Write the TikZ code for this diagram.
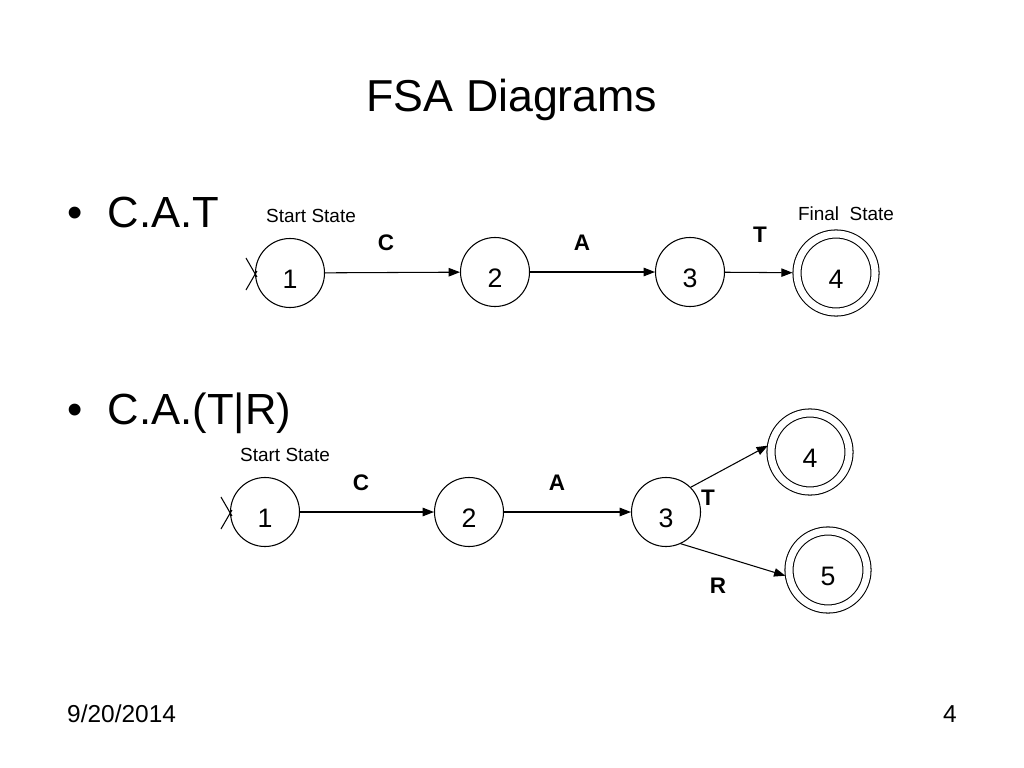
\documentclass[tikz,border=0pt]{standalone}
\usepackage{fontspec}
\setmainfont{Liberation Sans}
\usepackage{tikz}
\usetikzlibrary{arrows.meta}

\newcommand{\fs}[1]{\fontsize{#1}{1.2\dimexpr#1\relax}\selectfont}

\begin{document}
\begin{tikzpicture}[x=0.025cm, y=-0.025cm, line width=0.75pt,
    >={Triangle[length=8pt, width=6pt]},
    state/.style={circle, draw, minimum size=1.725cm, inner sep=0pt,
      text height=22pt, text depth=0pt, font=\fs{19pt}},
    accept/.style={circle, draw, double, double distance=5pt, minimum size=1.95cm,
      inner sep=0pt, text height=22pt, text depth=0pt, font=\fs{19pt}},
    sym/.style={font=\fs{16pt}\bfseries},
    tag/.style={font=\fs{13.5pt}}]
  \useasboundingbox (0,0) rectangle (1024,768);

  % Title and bullets
  \node[anchor=base, font=\fs{31.8pt}] (title) at (512,112) {FSA Diagrams};
  \node[anchor=base west, font=\fs{31pt}] (cat) at (62,227) {\textbullet\hspace{18pt}C.A.T};
  \node[anchor=base west, font=\fs{31pt}] (catr) at (62,424) {\textbullet\hspace{18pt}C.A.(T|R)};

  % First machine
  \node[state] (a1) at (290,273) {1};
  \node[state] (a2) at (495,272) {2};
  \node[state] (a3) at (690,272) {3};
  \node[accept] (a4) at (836,273) {4};

  \draw (a1.west) ++(-9,-15) -- ++(11,19);
  \draw (a1.west) ++(-9,17) -- ++(11,-19);

  \draw[->] (a1) -- (a2);
  \draw[->] (a2) -- (a3);
  \draw[->, shorten >=2.8pt] (a3) -- (a4);

  \node[tag] (astart) at (311,216) {Start State};
  \node[tag] (afinal) at (846,214) {Final\ \ State};
  \node[sym] (ac) at (386,243) {C};
  \node[sym] (aa) at (582,243) {A};
  \node[sym] (at) at (760,235) {T};

  % Second machine
  \node[state] (b1) at (265,512) {1};
  \node[state] (b2) at (469,512) {2};
  \node[state] (b3) at (666,512) {3};
  \node[accept] (b4) at (810,452) {4};
  \node[accept] (b5) at (828,570) {5};

  \draw (b1.west) ++(-9,-15) -- ++(11,19);
  \draw (b1.west) ++(-9,17) -- ++(11,-19);

  \draw[->] (b1) -- (b2);
  \draw[->] (b2) -- (b3);
  \draw[->, shorten >=2.8pt] (b3.45) -- (b4.168);
  \draw[->, shorten >=2.8pt] (b3.-65) -- (b5.190);

  \node[tag] (bstart) at (285,455) {Start State};
  \node[sym] (bc) at (361,483) {C};
  \node[sym] (ba) at (557,483) {A};
  \node[sym] (bt) at (708,498) {T};
  \node[sym] (br) at (718,586) {R};

  % Footer
  \node[anchor=base west, font=\fs{17.4pt}] (date) at (62,722) {9/20/2014};
  \node[anchor=base east, font=\fs{17.4pt}] (page) at (962,722) {4};
\end{tikzpicture}
\end{document}
